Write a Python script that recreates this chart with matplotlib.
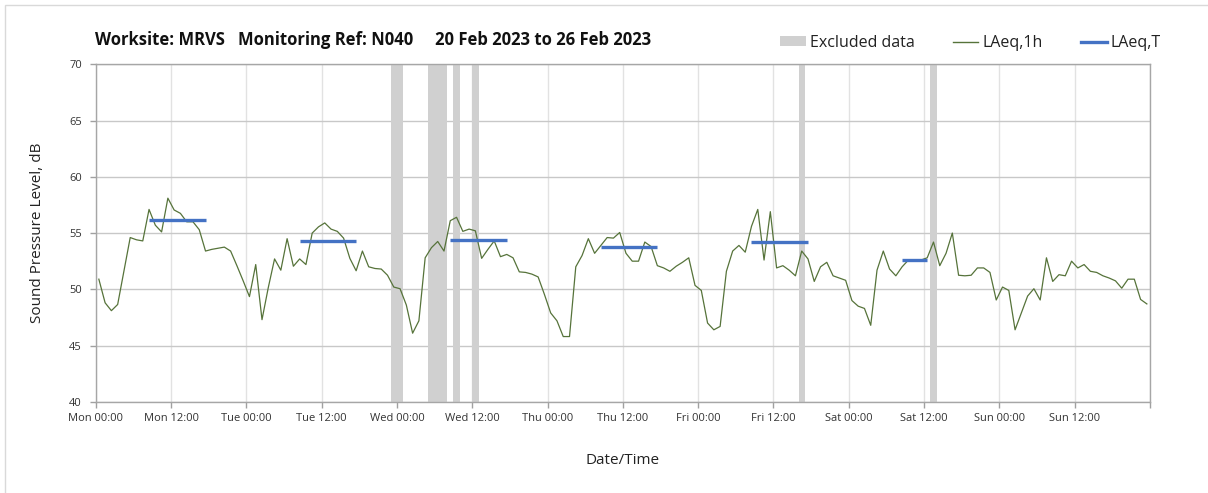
import numpy as np
import matplotlib
matplotlib.use("Agg")
import matplotlib.pyplot as plt
from matplotlib.patches import Patch, Rectangle
from matplotlib.lines import Line2D

plt.rcParams['font.family'] = ['Open Sans', 'DejaVu Sans']

# hourly LAeq,1h values (Mon 00:00 .. Sun 23:00), plotted at the hour mid-point
laeq_1h = [
    50.9, 48.8, 48.1, 48.65, 51.6, 54.6, 54.4, 54.3, 57.1, 55.7,
    55.1, 58.1, 57.05, 56.75, 56.0, 56.0, 55.3, 53.4, 53.55, 53.65,
    53.75, 53.4, 52.1, 50.75, 49.35, 52.2, 47.3, 50.15, 52.7, 51.7,
    54.5, 52.05, 52.7, 52.2, 55.0, 55.55, 55.9, 55.35, 55.15, 54.55,
    52.75, 51.65, 53.4, 52.0, 51.85, 51.8, 51.25, 50.2, 50.05, 48.6,
    46.1, 47.2, 52.8, 53.7, 54.25, 53.4, 56.1, 56.4, 55.15, 55.35,
    55.2, 52.75, 53.55, 54.3, 52.9, 53.1, 52.8, 51.55, 51.5, 51.35,
    51.1, 49.55, 47.9, 47.2, 45.8, 45.8, 52.0, 53.0, 54.5, 53.2,
    53.9, 54.6, 54.55, 55.05, 53.2, 52.5, 52.5, 54.2, 53.8, 52.1,
    51.9, 51.6, 52.05, 52.4, 52.8, 50.35, 49.9, 47.0, 46.4, 46.7,
    51.6, 53.4, 53.9, 53.3, 55.6, 57.1, 52.6, 56.9, 51.9, 52.1,
    51.7, 51.2, 53.4, 52.7, 50.7, 52.0, 52.4, 51.2, 51.0, 50.8,
    49.0, 48.5, 48.3, 46.8, 51.7, 53.4, 51.8, 51.2, 52.0, 52.6,
    52.6, 52.6, 52.8, 54.2, 52.1, 53.2, 55.0, 51.25, 51.2, 51.25,
    51.9, 51.9, 51.5, 49.05, 50.2, 49.9, 46.4, 47.9, 49.4, 50.05,
    49.05, 52.8, 50.7, 51.3, 51.2, 52.5, 51.9, 52.2, 51.6, 51.5,
    51.2, 51.0, 50.75, 50.1, 50.9, 50.9, 49.1, 48.7,
]
hours = np.arange(len(laeq_1h)) + 0.5

# LAeq,T daytime periods: start hour, end hour, level
laeqT_start = [8.5, 32.5, 56.5, 80.5, 104.5, 128.5]
laeqT_end = [17.5, 41.5, 65.5, 89.5, 113.5, 132.5]
laeqT_level = [56.2, 54.3, 54.4, 53.75, 54.2, 52.6]

# excluded data periods (hours from Mon 00:00)
excl_start = [47, 53, 57, 60, 112, 133]
excl_end = [49, 56, 58, 61, 113, 134]

tick_hours = list(range(0, 168, 12))
tick_labels = ["Mon 00:00", "Mon 12:00", "Tue 00:00", "Tue 12:00", "Wed 00:00",
               "Wed 12:00", "Thu 00:00", "Thu 12:00", "Fri 00:00", "Fri 12:00",
               "Sat 00:00", "Sat 12:00", "Sun 00:00", "Sun 12:00"]

fig = plt.figure(figsize=(12.08, 4.93), dpi=100)
ax = fig.add_axes([95.7 / 1208, 1 - 401.8 / 493, (1150 - 95.7) / 1208, (401.8 - 64.3) / 493])

# figure frame
fig.patches.append(Rectangle((5 / 1208, -0.05), 1.1, 1 - 5 / 493 + 0.05,
                             transform=fig.transFigure, fill=False,
                             edgecolor='#d9d9d9', linewidth=1.0))

for s, e in zip(excl_start, excl_end):
    ax.axvspan(s, e, color='#d0d0d0', lw=0, zorder=1)

ax.plot(hours, laeq_1h, color='#56733a', lw=0.9, zorder=3)
for s, e, v in zip(laeqT_start, laeqT_end, laeqT_level):
    ax.plot([s, e], [v, v], color='#4472c4', lw=2.4, solid_capstyle='butt', zorder=4)

ax.set_xlim(0, 168)
ax.set_ylim(40, 70)
ax.set_xticks(tick_hours + [168])
ax.set_xticklabels(tick_labels + [""])
ax.set_yticks(range(40, 71, 5))
ax.tick_params(axis='both', labelsize=8, colors='#a0a0a0', labelcolor='#333333',
               length=4, width=1)
ax.tick_params(axis='x', pad=4)
ax.tick_params(axis='y', pad=6)

ax.grid(axis='y', color='#c8c8c8', lw=1)
ax.grid(axis='x', color='#e2e2e2', lw=1)
ax.set_axisbelow(True)
for sp in ax.spines.values():
    sp.set_color('#a6a6a6')
    sp.set_linewidth(1)

ax.set_ylabel("Sound Pressure Level, dB", fontsize=11, color='#222222', labelpad=17)
ax.set_xlabel("Date/Time", fontsize=11, color='#222222', labelpad=21)

fig.text(95 / 1208, 1 - 40 / 493,
         "Worksite: MRVS   Monitoring Ref: N040     20 Feb 2023 to 26 Feb 2023",
         fontsize=12, fontweight='bold', color='#111111', va='center', ha='left')

handles = [Patch(facecolor='#d0d0d0', edgecolor='none'),
           Line2D([], [], color='#56733a', lw=1.0),
           Line2D([], [], color='#4472c4', lw=2.4)]
fig.legend(handles, ["Excluded data", "LAeq,1h", "LAeq,T"], ncol=3,
           loc='center right', bbox_to_anchor=(1175 / 1208, 1 - 43 / 493),
           frameon=False, fontsize=11.5, handlelength=1.6, handleheight=0.6,
           columnspacing=2.4, handletextpad=0.25, labelcolor='#222222')

fig.savefig("out.png", dpi=100)
